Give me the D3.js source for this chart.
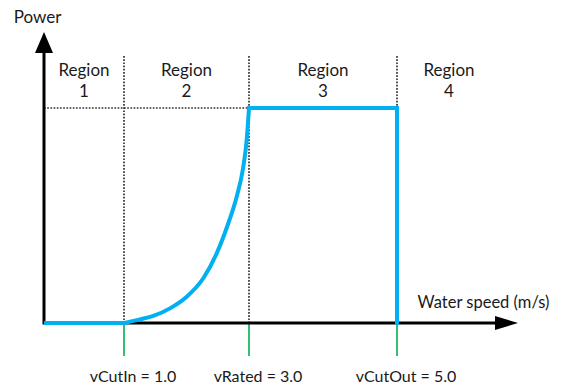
<!DOCTYPE html>
<html>
<head>
<meta charset="utf-8">
<script src="https://cdn.jsdelivr.net/npm/d3@7"></script>
<style>
  html, body { margin: 0; padding: 0; background: #fff; }
  svg { display: block; }
  text { font-family: Lato, "Open Sans", "Noto Sans", sans-serif; fill: #1a1a1a; }
</style>
</head>
<body>
<svg id="chart" width="563" height="385"></svg>
<script>
// ---- data ----
const markSpeeds = [1.0, 3.0, 5.0];
const markNames = ["vCutIn", "vRated", "vCutOut"];
const regionNames = ["1", "2", "3", "4"];
const regionBounds = [0, 1.0, 3.0, 5.0, 6.4];
// power curve (normalised power, 1 = rated power)
const flatSpeed = [0, 1.0];
const flatPower = [0, 0];
const curveSpeed = [1.0, 1.256, 1.469, 1.736, 2.003, 2.269, 2.483, 2.669, 2.803, 2.909, 2.963, 3.0];
const curvePower = [0, 0.017, 0.033, 0.068, 0.122, 0.208, 0.324, 0.464, 0.587, 0.727, 0.851, 1.0];
const ratedSpeed = [3.0, 5.0, 5.0];
const ratedPower = [1.0, 1.0, 0];
const xTitle = "Water speed (m/s)";
const yTitle = "Power";

// ---- layout ----
const svg = d3.select("#chart");
const x0 = 44, y0 = 323;
const x = d3.scaleLinear().domain(regionBounds).range([44, 124, 249, 397, 501]);
const y = d3.scaleLinear().domain([0, 1]).range([y0, 108]);
const topY = 56;

// dotted guide lines
const guides = svg.append("g").attr("stroke", "#333").attr("stroke-width", 1.7)
  .attr("stroke-dasharray", "1.7,1.5").attr("fill", "none");
markSpeeds.forEach(v => {
  guides.append("line").attr("x1", x(v)).attr("x2", x(v)).attr("y1", topY).attr("y2", y0);
});
guides.append("line").attr("x1", x0).attr("x2", x(markSpeeds[1])).attr("y1", y(1)).attr("y2", y(1));

// green ticks
svg.append("g").selectAll("line").data(markSpeeds).join("line")
  .attr("x1", d => x(d)).attr("x2", d => x(d))
  .attr("y1", y0 + 1).attr("y2", 356)
  .attr("stroke", "#00b050").attr("stroke-width", 1.6);

// tick labels
svg.append("g").selectAll("text").data(markSpeeds).join("text")
  .attr("x", d => x(d) + 9).attr("y", 382)
  .attr("text-anchor", "middle").attr("font-size", 16)
  .text((d, i) => `${markNames[i]} = ${d.toFixed(1)}`);

// axes
svg.append("line").attr("x1", x0).attr("x2", 496).attr("y1", y0).attr("y2", y0)
  .attr("stroke", "#000").attr("stroke-width", 3);
svg.append("line").attr("x1", x0).attr("x2", x0).attr("y1", y0 + 1.5).attr("y2", 52)
  .attr("stroke", "#000").attr("stroke-width", 3);
svg.append("path").attr("d", `M${x0},32 L${x0 - 9},53 L${x0 + 9},53 Z`).attr("fill", "#000");
svg.append("path").attr("d", `M518,${y0} L495,${y0 - 7} L495,${y0 + 7} Z`).attr("fill", "#000");

// axis titles
svg.append("text").attr("x", 37.5).attr("y", 23).attr("text-anchor", "middle")
  .attr("font-size", 17).text(yTitle);
svg.append("text").attr("x", 483.5).attr("y", 308).attr("text-anchor", "middle")
  .attr("font-size", 16.5).text(xTitle);

// region labels
const reg = svg.append("g").selectAll("text").data(regionNames).join("text")
  .attr("text-anchor", "middle").attr("font-size", 17)
  .attr("x", (d, i) => (x(regionBounds[i]) + x(regionBounds[i + 1])) / 2);
reg.append("tspan").attr("y", 76).attr("x", (d, i) => (x(regionBounds[i]) + x(regionBounds[i + 1])) / 2).text("Region");
reg.append("tspan").attr("y", 97).attr("x", (d, i) => (x(regionBounds[i]) + x(regionBounds[i + 1])) / 2).text(d => d);

// power curve
const blue = "#00b0f0";
const lineLin = d3.line().x(d => x(d[0])).y(d => y(d[1]));
const lineCurve = d3.line().x(d => x(d[0])).y(d => y(d[1])).curve(d3.curveMonotoneX);
svg.append("path").attr("d", lineLin(flatSpeed.map((v, i) => [v, flatPower[i]])))
  .attr("fill", "none").attr("stroke", blue).attr("stroke-width", 4);
svg.append("path").attr("d", lineCurve(curveSpeed.map((v, i) => [v, curvePower[i]])))
  .attr("fill", "none").attr("stroke", blue).attr("stroke-width", 4).attr("stroke-linecap", "round");
svg.append("path").attr("d", lineLin(ratedSpeed.map((v, i) => [v, ratedPower[i]])))
  .attr("fill", "none").attr("stroke", blue).attr("stroke-width", 4)
  .attr("stroke-linecap", "square").attr("stroke-linejoin", "miter");
</script>
</body>
</html>
